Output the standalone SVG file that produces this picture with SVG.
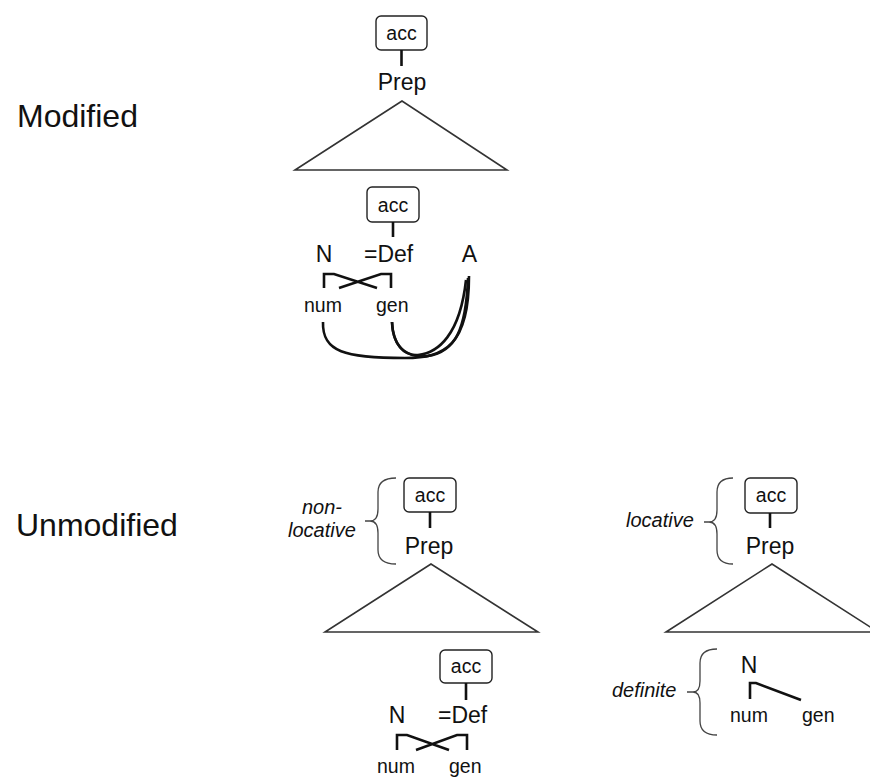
<svg xmlns="http://www.w3.org/2000/svg" width="870" height="777" viewBox="0 0 870 777">
<style>
text{font-family:"Liberation Sans",Arial,sans-serif;fill:#111}
.big{font-size:32px}
.lab{font-size:23px}
.sm{font-size:19.5px}
.it{font-size:20px;font-style:italic}
.box{fill:#fff;stroke:#222;stroke-width:1.4}
.stem{stroke:#111;stroke-width:2.6;fill:none}
.tri{fill:none;stroke:#333;stroke-width:1.6;stroke-linejoin:miter}
.brace{fill:none;stroke:#444;stroke-width:1.3}
.ln{fill:none;stroke:#111;stroke-width:2.6}
</style>
<rect width="870" height="777" fill="#fff"/>
<g id="label-modified"><text class="big" x="17" y="127">Modified</text></g>
<g id="label-unmodified"><text class="big" x="16" y="536">Unmodified</text></g>

<g id="top-acc"><rect class="box" x="376" y="16" width="51" height="34" rx="5"/><text class="sm" x="401.5" y="40" text-anchor="middle">acc</text></g>
<g id="top-prep"><text class="lab" x="402" y="90" text-anchor="middle">Prep</text></g>
<g id="top-triangle"><polygon class="tri" points="402,101 295,170 507,170"/></g>
<g id="mod-acc"><rect class="box" x="367" y="187" width="52" height="35" rx="5"/><text class="sm" x="393" y="212" text-anchor="middle">acc</text></g>
<g id="mod-N"><text class="lab" x="324" y="262" text-anchor="middle">N</text></g>
<g id="mod-Def"><text class="lab" x="364" y="262">=Def</text></g>
<g id="mod-A"><text class="lab" x="469.5" y="262" text-anchor="middle">A</text></g>
<g id="mod-num"><text class="sm" x="304" y="312">num</text></g>
<g id="mod-gen"><text class="sm" x="376" y="312">gen</text></g>

<g id="nl-brace"><path class="brace" d="M396,478 Q378,478 378,492 L378,509 Q378,521 370,521 Q378,521 378,533 L378,550 Q378,564 396,564 M365,521 H370"/>
<text class="it" x="302" y="514">non-</text><text class="it" x="288" y="537">locative</text></g>
<g id="nl-acc"><rect class="box" x="404" y="478" width="52" height="34" rx="5"/><text class="sm" x="430" y="502" text-anchor="middle">acc</text></g>
<g id="nl-prep"><text class="lab" x="429" y="554" text-anchor="middle">Prep</text></g>
<g id="nl-triangle"><polygon class="tri" points="431,564 325,632 538,632"/></g>
<g id="nl-acc2"><rect class="box" x="440" y="650" width="52" height="33" rx="5"/><text class="sm" x="466" y="673" text-anchor="middle">acc</text></g>
<g id="nl-N"><text class="lab" x="397" y="723" text-anchor="middle">N</text></g>
<g id="nl-Def"><text class="lab" x="438" y="723">=Def</text></g>
<g id="nl-num"><text class="sm" x="377" y="773">num</text></g>
<g id="nl-gen"><text class="sm" x="449" y="773">gen</text></g>

<g id="loc-brace"><path class="brace" d="M733,478 Q717,478 717,492 L717,510 Q717,522 709,522 Q717,522 717,534 L717,550 Q717,564 733,564 M704,522 H709"/>
<text class="it" x="626" y="527">locative</text></g>
<g id="loc-acc"><rect class="box" x="745" y="478" width="52" height="35" rx="5"/><text class="sm" x="771" y="502" text-anchor="middle">acc</text></g>
<g id="loc-prep"><text class="lab" x="770" y="554" text-anchor="middle">Prep</text></g>
<g id="loc-triangle"><polygon class="tri" points="772,564 666,632 878,632"/></g>
<g id="def-brace"><path class="brace" d="M717,649 Q700,649 700,663 L700,681 Q700,692 693,692 Q700,692 700,703 L700,721 Q700,735 717,735 M687,692 H693"/>
<text class="it" x="612" y="697">definite</text></g>
<g id="loc-N"><text class="lab" x="749" y="673" text-anchor="middle">N</text></g>
<g id="loc-num"><text class="sm" x="730" y="722">num</text></g>
<g id="loc-gen"><text class="sm" x="802" y="722">gen</text></g>

<g id="connectors">
<path class="stem" d="M401.5,50 V66"/>
<path class="stem" d="M393,222 V237"/>
<path class="ln" d="M324,288 V274 H334 L377,288 M391,288 V274 H381 L339,288"/>
<path class="ln" d="M323,322 C322,352 345,358 405,358 C445,358 469,345 469,276"/>
<path class="ln" d="M392,322 C393,352 412,358 428,356 C455,352 466,330 468,278"/>
<path class="ln" d="M392,322 C393,345 404,356 418,355 C438,353 460,335 466,280"/>
<path class="stem" d="M430,512 V528"/>
<path class="stem" d="M466,683 V700"/>
<path class="ln" d="M397,750 V735 H407 L449,750 M467,750 V735 H457 L416,750"/>
<path class="stem" d="M770,513 V528"/>
<path class="ln" d="M750,699 V683 H756 L801,700"/>
</g>
</svg>
